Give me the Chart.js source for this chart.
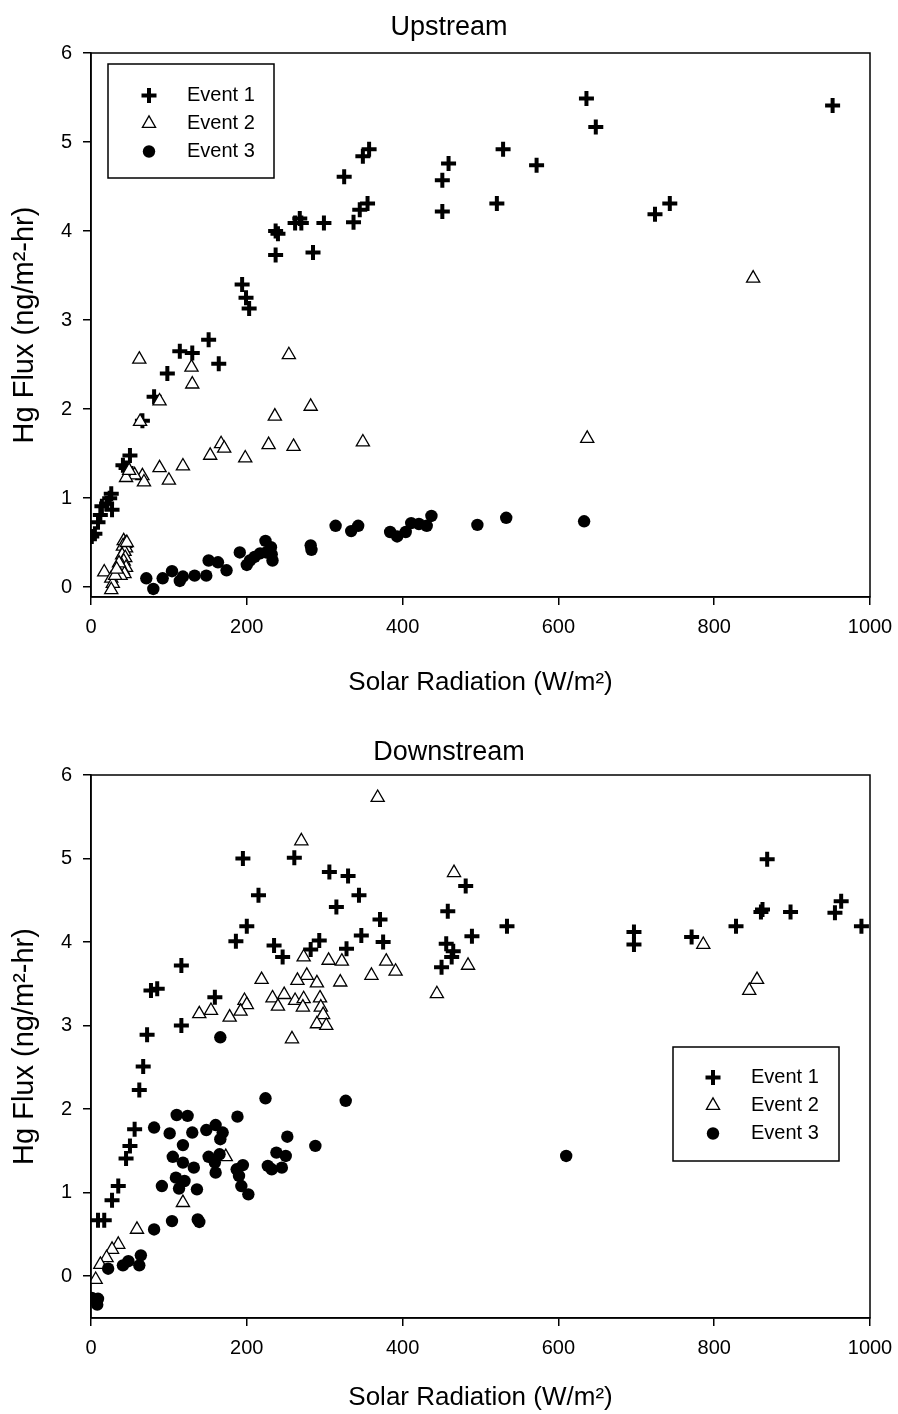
<!DOCTYPE html>
<html>
<head>
<meta charset="utf-8">
<script src="https://cdn.jsdelivr.net/npm/chart.js@4.4.1/dist/chart.umd.min.js"></script>
<style>
html,body{margin:0;padding:0;background:#fff;}
.wrap{width:898px;height:707px;position:relative;}
canvas{display:block;}
</style>
</head>
<body>
<div class="wrap"><canvas id="up" width="898" height="707"></canvas></div>
<div class="wrap"><canvas id="down" width="898" height="707"></canvas></div>
<script>
// ---------- Data ----------
const xTicks = [0, 200, 400, 600, 800, 1000];
const yTicks = [0, 1, 2, 3, 4, 5, 6];
const seriesLabels = ['Event 1', 'Event 2', 'Event 3'];
const chartTitles = ['Upstream', 'Downstream'];
const xAxisTitle = 'Solar Radiation (W/m²)';
const yAxisTitle = 'Hg Flux (ng/m²-hr)';

// Upstream
const upE1X = [325,337,345,355,349,357,237,240,237,262,268,270,299,285,194,199,203,151,114,130,451,459,451,529,521,572,636,648,724,743,952,164,98,81,66,50,41,45,26,24,20,14,27,12,9,5,1];
const upE1Y = [4.61,4.10,4.24,4.31,4.84,4.92,4.00,3.97,3.73,4.09,4.14,4.09,4.09,3.76,3.40,3.25,3.13,2.78,2.65,2.63,4.57,4.76,4.22,4.92,4.31,4.74,5.49,5.17,4.19,4.31,5.41,2.51,2.40,2.14,1.87,1.48,1.37,1.34,1.05,1.00,0.94,0.91,0.87,0.81,0.73,0.60,0.57];
const upE2X = [62,254,129,130,88,63,236,282,349,167,171,153,198,228,260,118,88,100,66,68,56,45,49,42,44,41,45,43,40,44,42,39,45,41,43,38,36,46,17,26,28,26,31,33,850,637];
const upE2Y = [2.56,2.61,2.47,2.28,2.09,1.86,1.92,2.03,1.63,1.61,1.56,1.48,1.45,1.60,1.58,1.36,1.34,1.20,1.25,1.18,1.26,1.23,1.31,0.52,0.49,0.46,0.44,0.40,0.36,0.33,0.29,0.25,0.22,0.19,0.15,0.13,0.27,0.50,0.17,0.10,0.04,-0.03,0.13,0.20,3.47,1.67];
const upE3X = [71,80,92,104,114,118,133,148,151,163,174,191,200,204,210,217,224,231,232,233,225,282,283,314,334,343,384,393,404,411,421,431,437,496,533,633];
const upE3Y = [0.10,-0.02,0.10,0.18,0.07,0.12,0.13,0.13,0.30,0.28,0.19,0.39,0.25,0.30,0.34,0.38,0.52,0.45,0.37,0.30,0.39,0.47,0.42,0.69,0.63,0.69,0.62,0.57,0.62,0.72,0.71,0.69,0.80,0.70,0.78,0.74];

// Downstream
const dnE1X = [195,261,215,200,186,306,330,344,315,371,347,375,235,246,282,293,328,116,77,85,159,116,72,67,62,56,50,45,35,27,9,17,481,458,456,465,463,450,489,534,697,697,771,828,862,860,868,898,955,963,989];
const dnE1Y = [5.00,5.01,4.56,4.19,4.01,4.84,4.79,4.56,4.42,4.27,4.08,4.00,3.96,3.82,3.91,4.02,3.92,3.72,3.42,3.44,3.34,3.00,2.89,2.51,2.23,1.76,1.56,1.41,1.08,0.91,0.67,0.67,4.67,4.37,3.98,3.89,3.82,3.70,4.07,4.19,4.12,3.97,4.06,4.19,4.39,4.36,4.99,4.36,4.35,4.49,4.19];
const dnE2X = [368,270,273,277,265,290,305,322,320,360,379,391,219,233,240,248,262,273,272,294,295,298,290,302,258,197,200,192,178,154,139,444,466,484,786,855,845,118,173,59,35,27,20,12,6];
const dnE2Y = [5.73,5.21,3.82,3.60,3.54,3.51,3.78,3.77,3.52,3.60,3.77,3.65,3.55,3.33,3.23,3.37,3.30,3.32,3.22,3.33,3.22,3.13,3.02,3.00,2.84,3.30,3.25,3.17,3.10,3.18,3.14,3.38,4.83,3.72,3.97,3.55,3.42,0.88,1.43,0.56,0.38,0.32,0.22,0.14,-0.04];
const dnE3X = [224,327,110,124,188,81,101,130,148,160,169,166,252,118,288,105,118,132,151,165,159,160,187,195,190,193,202,227,232,238,250,245,91,109,113,120,136,104,137,139,81,64,62,48,41,22,1,9,8,166,610];
const dnE3Y = [2.13,2.10,1.93,1.92,1.91,1.78,1.71,1.72,1.75,1.81,1.72,1.64,1.67,1.57,1.56,1.43,1.36,1.30,1.43,1.46,1.36,1.24,1.28,1.33,1.20,1.08,0.98,1.32,1.28,1.48,1.44,1.30,1.08,1.18,1.05,1.14,1.04,0.66,0.68,0.65,0.56,0.25,0.13,0.18,0.13,0.09,-0.26,-0.27,-0.34,2.86,1.44];

// ---------- Helpers ----------
const FONT = "'Liberation Sans', Arial, Helvetica, sans-serif";
Chart.defaults.font.family = FONT;
Chart.defaults.color = '#000';

function pts(xs, ys) { return xs.map((x, i) => ({ x: x, y: ys[i] })); }

const markerStyles = [
  { pointStyle: 'cross', pointRadius: 7.5, pointBorderWidth: 4, pointBackgroundColor: '#000', pointBorderColor: '#000' },
  { pointStyle: 'triangle', pointRadius: 7.6, pointBorderWidth: 1.3, pointBackgroundColor: '#fff', pointBorderColor: '#000' },
  { pointStyle: 'circle', pointRadius: 6.2, pointBorderWidth: 0, pointBackgroundColor: '#000', pointBorderColor: '#000' }
];

function makeDatasets(series) {
  return series.map((s, i) => Object.assign({
    label: seriesLabels[i],
    data: pts(s[0], s[1]),
    showLine: false,
    order: 3 - i
  }, markerStyles[i], { pointHoverRadius: markerStyles[i].pointRadius }));
}

function drawMarker(ctx, st, x, y) {
  ctx.save();
  ctx.fillStyle = st.pointBackgroundColor;
  ctx.strokeStyle = st.pointBorderColor;
  ctx.lineWidth = st.pointBorderWidth;
  if (Chart.helpers && Chart.helpers.drawPoint) {
    Chart.helpers.drawPoint(ctx, { pointStyle: st.pointStyle, radius: st.pointRadius, borderWidth: st.pointBorderWidth, rotation: 0 }, x, y);
  } else {
    const r = st.pointRadius;
    ctx.beginPath();
    if (st.pointStyle === 'cross') {
      ctx.moveTo(x - r, y); ctx.lineTo(x + r, y); ctx.moveTo(x, y - r); ctx.lineTo(x, y + r); ctx.stroke();
    } else if (st.pointStyle === 'triangle') {
      for (let k = 0; k < 3; k++) {
        const a = k * 2 * Math.PI / 3;
        const px = x + Math.sin(a) * r, py = y - Math.cos(a) * r;
        if (k === 0) ctx.moveTo(px, py); else ctx.lineTo(px, py);
      }
      ctx.closePath(); ctx.fill(); ctx.stroke();
    } else {
      ctx.arc(x, y, r, 0, Math.PI * 2); ctx.fill();
    }
  }
  ctx.restore();
}

const framePlugin = {
  id: 'frame',
  afterDraw(chart) {
    const { ctx, chartArea: a } = chart;
    ctx.save();
    ctx.strokeStyle = '#000';
    ctx.lineWidth = 1.5;
    ctx.strokeRect(a.left, a.top, a.right - a.left, a.bottom - a.top);
    ctx.restore();
  }
};

const boxLegendPlugin = {
  id: 'boxLegend',
  afterDraw(chart, args, o) {
    const { ctx, chartArea: a } = chart;
    const L = a.left + o.dx, T = a.top + o.dy;
    ctx.save();
    ctx.strokeStyle = '#000';
    ctx.lineWidth = 1.5;
    ctx.fillStyle = '#fff';
    ctx.fillRect(L, T, o.w, o.h);
    ctx.strokeRect(L, T, o.w, o.h);
    chart.data.datasets.forEach((ds, i) => {
      const y = T + o.firstRow + i * o.rowGap;
      drawMarker(ctx, markerStyles[i], L + o.markerX, y);
      ctx.fillStyle = '#000';
      ctx.font = '20px ' + FONT;
      ctx.textBaseline = 'middle';
      ctx.textAlign = 'left';
      ctx.fillText(ds.label, L + o.textX, y);
    });
    ctx.restore();
  }
};

function makeChart(id, title, series, cfg) {
  return new Chart(document.getElementById(id), {
    type: 'scatter',
    data: { datasets: makeDatasets(series) },
    options: {
      responsive: false,
      animation: false,
      devicePixelRatio: 1,
      events: [],
      layout: { padding: { left: 0, right: 0, top: 0, bottom: 0 } },
      plugins: {
        legend: { display: false },
        tooltip: { enabled: false },
        title: {
          display: true, text: title, color: '#000',
          font: { size: 27, weight: 'normal', lineHeight: 1.2 },
          padding: cfg.titlePad
        },
        boxLegend: cfg.legend
      },
      scales: {
        x: {
          type: 'linear', min: 0, max: 1000,
          afterBuildTicks: s => { s.ticks = xTicks.map(v => ({ value: v })); },
          afterFit: s => { s.height = cfg.xAxisHeight; s.paddingLeft = 0; s.paddingRight = 0; },
          grid: { display: true, drawOnChartArea: false, drawTicks: true, tickLength: 8, color: '#000', lineWidth: 1.5 },
          border: { display: true, color: '#000', width: 1.5 },
          ticks: { padding: 10, maxRotation: 0, autoSkip: false, color: '#000', font: { size: 20 }, callback: v => String(v) },
          title: { display: true, text: xAxisTitle, color: '#000', font: { size: 26, lineHeight: 1.2 }, padding: { top: 0, bottom: cfg.xTitleBottom } }
        },
        y: {
          type: 'linear', min: cfg.yMin, max: 6,
          afterBuildTicks: s => { s.ticks = yTicks.map(v => ({ value: v })); },
          afterFit: s => { s.width = 91; },
          grid: { display: true, drawOnChartArea: false, drawTicks: true, tickLength: 8, color: '#000', lineWidth: 1.5 },
          border: { display: true, color: '#000', width: 1.5 },
          ticks: { padding: 11, color: '#000', font: { size: 20 }, callback: v => String(v) },
          title: { display: true, text: yAxisTitle, color: '#000', font: { size: 29, lineHeight: 1.2 }, padding: { top: 8, bottom: 0 } }
        },
        yRightSpace: {
          type: 'linear', position: 'right', min: 0, max: 1, display: true,
          afterFit: s => { s.width = 28; },
          grid: { display: false, drawTicks: false },
          border: { display: false },
          ticks: { display: false }
        }
      }
    },
    plugins: [framePlugin, boxLegendPlugin]
  });
}

makeChart('up', chartTitles[0], [[upE1X, upE1Y], [upE2X, upE2Y], [upE3X, upE3Y]], {
  yMin: -0.11,
  titlePad: { top: 11.8, bottom: 8.8 },
  xAxisHeight: 110,
  xTitleBottom: 8.4,
  legend: { dx: 17, dy: 11, w: 166, h: 114, markerX: 41, textX: 79, firstRow: 31.5, rowGap: 28 }
});

makeChart('down', chartTitles[1], [[dnE1X, dnE1Y], [dnE2X, dnE2Y], [dnE3X, dnE3Y]], {
  yMin: -0.5,
  titlePad: { top: 29.8, bottom: 5.8 },
  xAxisHeight: 96,
  xTitleBottom: 0.4,
  legend: { dx: 582, dy: 272, w: 166, h: 114, markerX: 40, textX: 78, firstRow: 30.5, rowGap: 28 }
});
</script>
</body>
</html>
